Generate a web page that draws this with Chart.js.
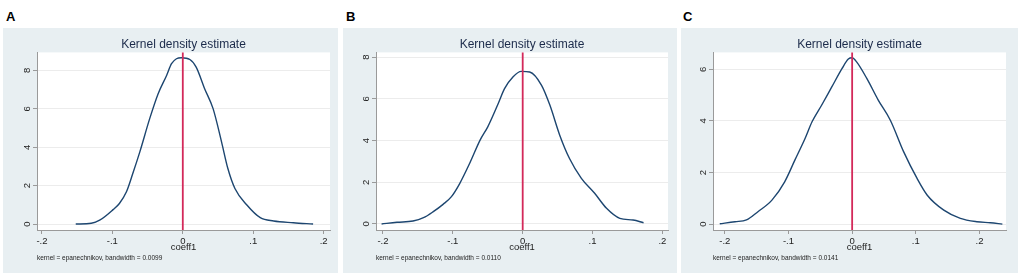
<!DOCTYPE html>
<html>
<head>
<meta charset="utf-8">
<script src="https://cdn.jsdelivr.net/npm/chart.js@4.4.1/dist/chart.umd.min.js"></script>
<style>
  body { margin: 0; width: 1021px; height: 278px; position: relative; overflow: hidden; background: #fff;
         font-family: 'Liberation Sans', Arial, sans-serif; }
  .panel { position: absolute; top: 28px; height: 245px; background: #e8eff2; }
  .panel canvas { display: block; }
  .letter { position: absolute; top: 10px; font-size: 13px; font-weight: bold; line-height: 1; color: #000; }
</style>
</head>
<body>
<div class="letter" style="left:6px">A</div>
<div class="letter" style="left:346px">B</div>
<div class="letter" style="left:683px">C</div>
<div class="panel" style="left:3px;width:335px"><canvas id="chartA" width="335" height="245"></canvas></div>
<div class="panel" style="left:343px;width:334px"><canvas id="chartB" width="334" height="245"></canvas></div>
<div class="panel" style="left:681px;width:337px"><canvas id="chartC" width="337" height="245"></canvas></div>
<script>
// data
const coefA = [-0.152, -0.130, -0.118, -0.099, -0.090, -0.080, -0.071, -0.061, -0.047, -0.035, -0.023, -0.016, -0.009,
  -0.002, 0.010, 0.019, 0.031, 0.043, 0.055, 0.064, 0.074, 0.091, 0.110, 0.129, 0.157, 0.185];
const densA = [0.00, 0.04, 0.20, 0.75, 1.07, 1.68, 2.63, 3.76, 5.49, 6.79, 7.74, 8.35, 8.61,
  8.66, 8.57, 8.17, 7.05, 6.01, 4.28, 2.89, 1.85, 0.99, 0.33, 0.16, 0.07, 0.00];

const coefB = [-0.202, -0.180, -0.157, -0.142, -0.128, -0.114, -0.102, -0.090, -0.076, -0.061, -0.050, -0.035, -0.026,
  -0.014, -0.002, 0.010, 0.027, 0.039, 0.053, 0.067, 0.084, 0.103, 0.120, 0.139, 0.158, 0.173];
const densB = [0.00, 0.08, 0.14, 0.30, 0.59, 0.94, 1.31, 1.95, 2.90, 4.02, 4.66, 5.78, 6.49,
  7.05, 7.32, 7.29, 6.65, 5.69, 4.26, 3.14, 2.19, 1.47, 0.75, 0.27, 0.19, 0.06];

const coefC = [-0.208, -0.184, -0.166, -0.148, -0.126, -0.106, -0.090, -0.074, -0.063, -0.048, -0.032, -0.016, -0.006,
  0.000, 0.007, 0.023, 0.041, 0.060, 0.081, 0.102, 0.118, 0.144, 0.170, 0.196, 0.217, 0.236];
const densC = [0.01, 0.09, 0.16, 0.48, 0.93, 1.64, 2.48, 3.32, 3.97, 4.61, 5.32, 6.03, 6.40,
  6.45, 6.29, 5.65, 4.81, 4.03, 2.80, 1.77, 1.12, 0.54, 0.22, 0.09, 0.05, 0.00];

const bandwidths = ['0.0099', '0.0110', '0.0141'];
const xRanges = [[-0.207, 0.209], [-0.210, 0.208], [-0.2186, 0.2417]];
const yRanges = [[-0.31, 8.94], [-0.29, 8.23], [-0.23, 6.66]];

const FONT = "'Liberation Sans', Arial, sans-serif";
const NAVY = '#1d4670';
const RED = '#d3295a';

// fill plot region white like Stata
const plotBg = {
  id: 'plotBg',
  beforeDraw(chart) {
    const { ctx, chartArea: a } = chart;
    ctx.save();
    ctx.fillStyle = '#fff';
    ctx.fillRect(a.left, a.top, a.right - a.left, a.bottom - a.top);
    ctx.restore();
  }
};

function stataLabel(v) {
  const r = Math.round(v * 10) / 10;
  if (r === 0) return '0';
  return r.toFixed(1).replace('0.', '.');
}

const panels = [
  { id: 'chartA', xs: coefA, ys: densA, left: 34, right: 8 },
  { id: 'chartB', xs: coefB, ys: densB, left: 33, right: 9 },
  { id: 'chartC', xs: coefC, ys: densC, left: 32, right: 12 }
];

panels.forEach((p, i) => {
  const pts = p.xs.map((x, k) => ({ x: x, y: p.ys[k] }));
  new Chart(document.getElementById(p.id), {
    type: 'line',
    data: {
      datasets: [
        {
          // vertical reference line at zero
          data: [{ x: 0, y: -5 }, { x: 0, y: 20 }],
          borderColor: RED,
          borderWidth: 1.8,
          pointRadius: 0
        },
        {
          data: pts,
          borderColor: NAVY,
          borderWidth: 1.4,
          pointRadius: 0,
          cubicInterpolationMode: 'monotone'
        }
      ]
    },
    options: {
      responsive: false,
      animation: false,
      events: [],
      layout: { padding: { top: 0, right: p.right, bottom: 0, left: 0 } },
      plugins: {
        legend: { display: false },
        tooltip: { enabled: false },
        title: {
          display: true,
          text: 'Kernel density estimate',
          fullSize: false,
          color: '#1b2a4a',
          font: { family: FONT, size: 12, weight: 'normal' },
          padding: { top: 9, bottom: 1 }
        },
        subtitle: {
          display: true,
          position: 'bottom',
          align: 'start',
          fullSize: false,
          text: 'kernel = epanechnikov, bandwidth = ' + bandwidths[i],
          color: '#222',
          font: { family: FONT, size: 6.5 },
          padding: { top: 0.5, bottom: 10.7 }
        }
      },
      scales: {
        x: {
          type: 'linear',
          min: xRanges[i][0],
          max: xRanges[i][1],
          afterFit: (s) => { s.height = 24; },
          border: { color: '#9a9a9a', width: 1 },
          grid: { drawOnChartArea: false, tickLength: 4, tickColor: '#9a9a9a' },
          ticks: {
            stepSize: 0.1,
            includeBounds: false,
            autoSkip: false,
            maxRotation: 0,
            padding: 1.5,
            color: '#222',
            font: { family: FONT, size: 9.5 },
            callback: (v) => stataLabel(v)
          },
          title: {
            display: true,
            text: 'coeff1',
            color: '#222',
            font: { family: FONT, size: 9.5 },
            padding: { top: 0, bottom: 0.5 }
          }
        },
        y: {
          type: 'linear',
          min: yRanges[i][0],
          max: yRanges[i][1],
          afterFit: (s) => { s.width = p.left; },
          border: { color: '#9a9a9a', width: 1 },
          grid: { color: '#ececec', lineWidth: 1, tickLength: 4, tickColor: '#9a9a9a' },
          ticks: {
            stepSize: 2,
            includeBounds: false,
            minRotation: 90,
            maxRotation: 90,
            crossAlign: 'center',
            padding: 3,
            color: '#222',
            font: { family: FONT, size: 9.5 },
            callback: (v) => String(Math.round(v))
          }
        }
      }
    },
    plugins: [plotBg]
  });
});
</script>
</body>
</html>
